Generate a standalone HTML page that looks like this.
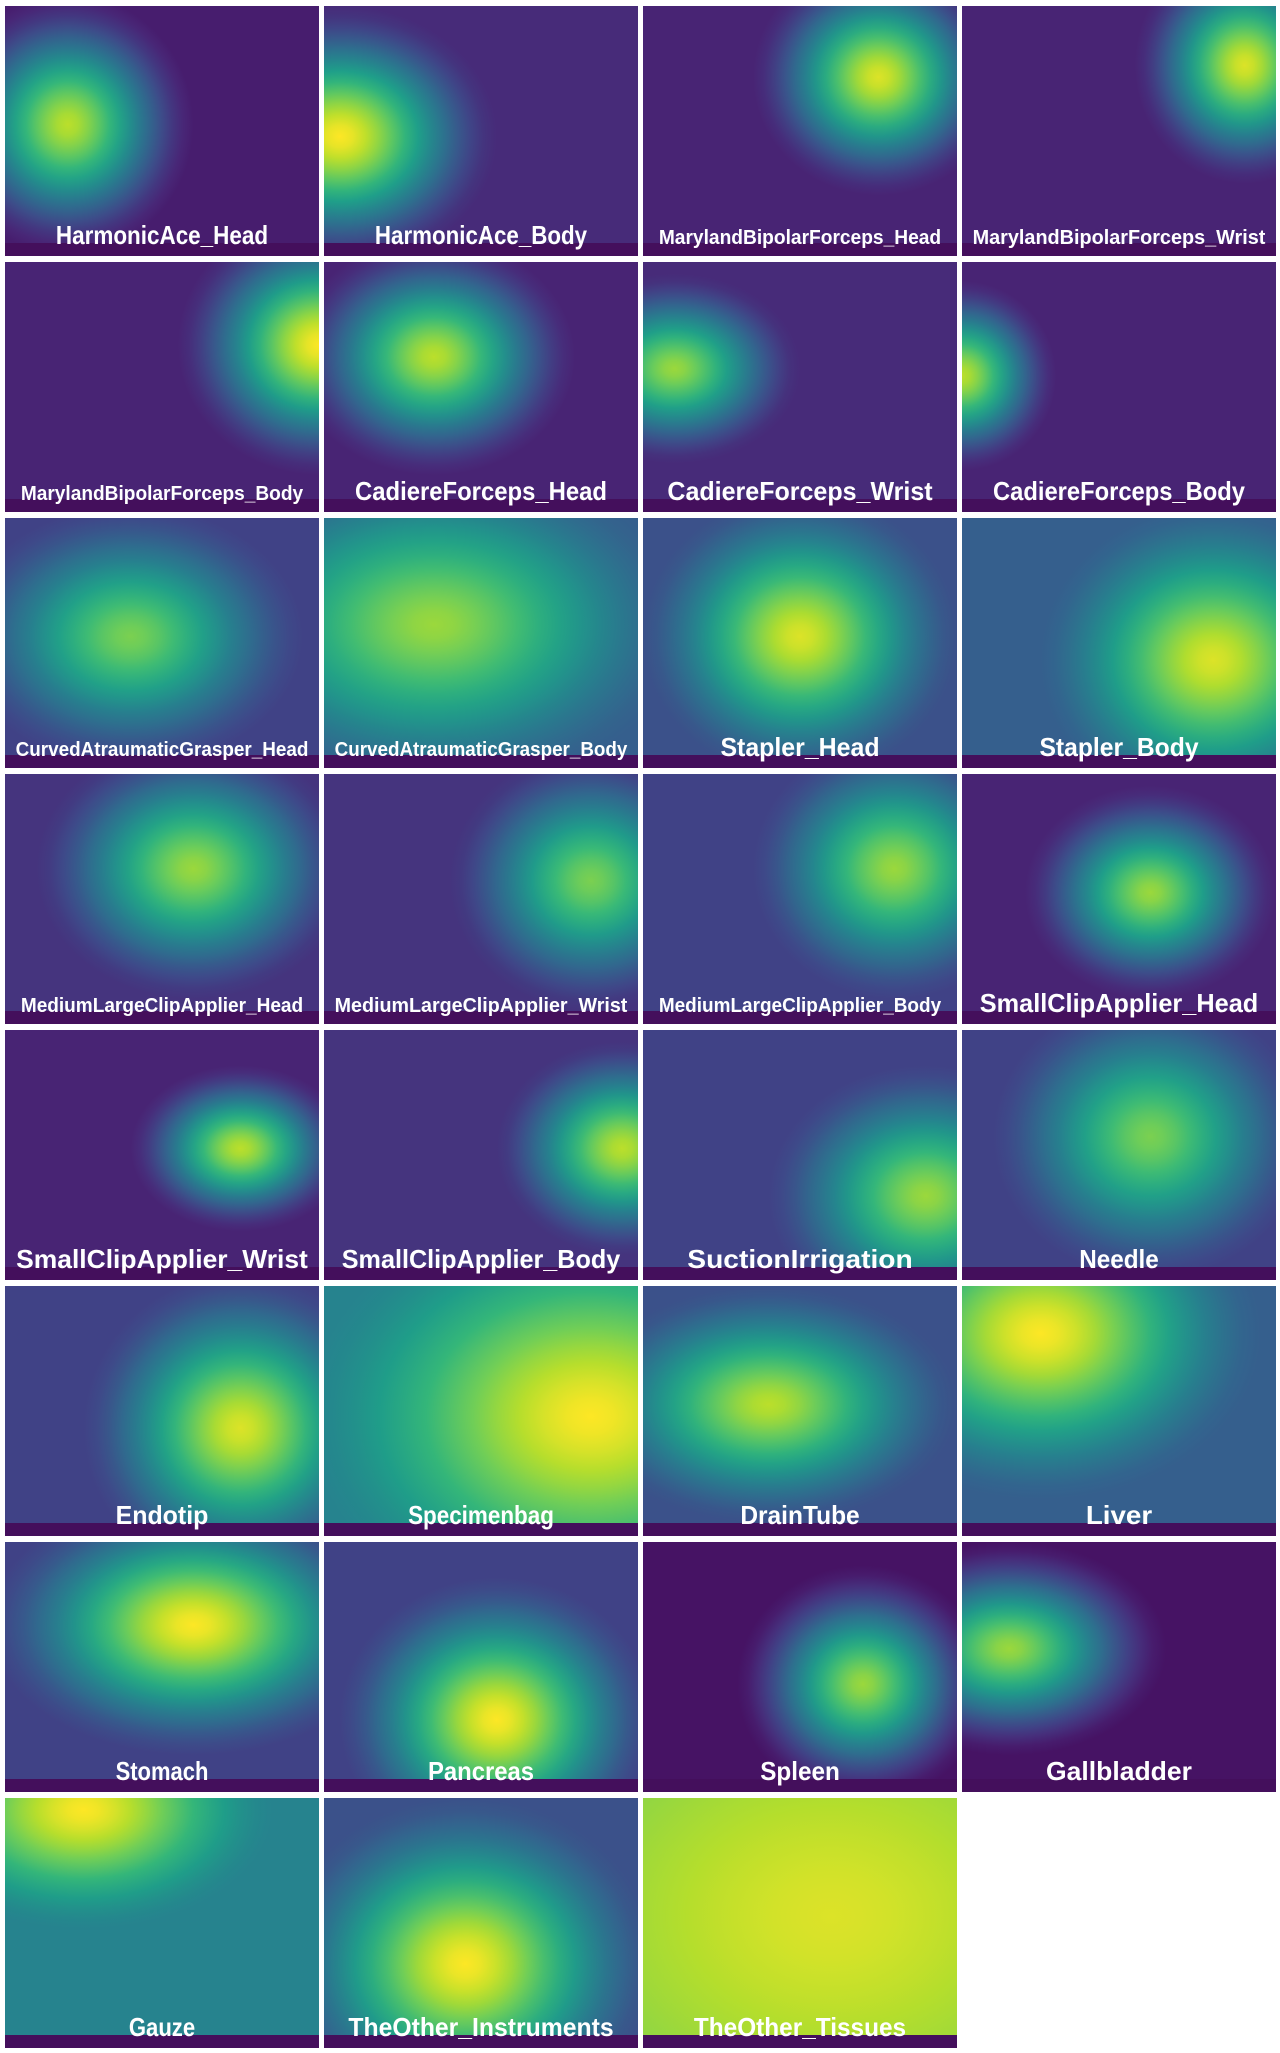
<!DOCTYPE html>
<html><head><meta charset="utf-8"><style>
html,body{margin:0;padding:0;background:#fff;width:1280px;height:2053px;overflow:hidden;}
svg{display:block;}
</style></head><body>
<svg id="chart" width="1280" height="2053" viewBox="0 0 1280 2053" xmlns="http://www.w3.org/2000/svg"><defs id="defs"></defs></svg>
<script>
const names=["HarmonicAce_Head","HarmonicAce_Body","MarylandBipolarForceps_Head","MarylandBipolarForceps_Wrist","MarylandBipolarForceps_Body","CadiereForceps_Head","CadiereForceps_Wrist","CadiereForceps_Body","CurvedAtraumaticGrasper_Head","CurvedAtraumaticGrasper_Body","Stapler_Head","Stapler_Body","MediumLargeClipApplier_Head","MediumLargeClipApplier_Wrist","MediumLargeClipApplier_Body","SmallClipApplier_Head","SmallClipApplier_Wrist","SmallClipApplier_Body","SuctionIrrigation","Needle","Endotip","Specimenbag","DrainTube","Liver","Stomach","Pancreas","Spleen","Gallbladder","Gauze","TheOther_Instruments","TheOther_Tissues"];
const hotX=[.2,.05,.75,.9,1,.35,.1,0,.4,.35,.5,.8,.6,.85,.8,.6,.75,.95,.9,.6,.75,.85,.4,.25,.6,.55,.7,.15,.25,.45,.6];
const hotY=[.5,.55,.3,.25,.35,.4,.45,.48,.5,.45,.5,.6,.4,.45,.4,.5,.5,.5,.7,.45,.6,.55,.5,.2,.35,.75,.6,.45,.05,.7,.5];
const spreadX=[.4,.5,.4,.35,.45,.45,.4,.3,.55,.8,.5,.55,.5,.45,.45,.4,.35,.4,.5,.5,.5,.9,.6,.7,.65,.5,.4,.5,.6,.6,1.1];
const spreadY=[.55,.55,.5,.5,.55,.5,.4,.4,.55,.7,.6,.65,.55,.55,.55,.45,.35,.45,.55,.6,.65,.9,.5,.7,.55,.6,.5,.45,.5,.7,1.1];
const peak=[.9,1,.95,.95,1,.9,.85,.9,.8,.85,.95,.95,.85,.8,.85,.85,.9,.9,.85,.8,.95,1,.9,1,1,1,.85,.85,1,1,.95];
const base=[.08,.12,.1,.1,.1,.1,.12,.1,.2,.3,.25,.3,.15,.15,.2,.1,.1,.15,.2,.2,.2,.45,.25,.3,.2,.2,.05,.05,.45,.25,.8];

const vir=[[68,1,84],[72,40,120],[62,73,137],[49,104,142],[38,130,142],[31,158,137],[53,183,121],[109,205,89],[180,222,44],[253,231,37]];
function viridis(t){t=Math.max(0,Math.min(1,t));const p=t*(vir.length-1),i=Math.min(vir.length-2,Math.floor(p)),f=p-i;
const c=vir[i].map((v,k)=>Math.round(v+(vir[i+1][k]-v)*f));return `rgb(${c[0]},${c[1]},${c[2]})`;}

const NS="http://www.w3.org/2000/svg";
const svg=document.getElementById('chart'),defs=document.getElementById('defs');
const X0=5,Y0=6,PX=319,PY=256,W=314,H=250,STRIP=13;
function mk(t,a){const e=document.createElementNS(NS,t);for(const k in a)e.setAttribute(k,a[k]);return e;}
names.forEach((nm,i)=>{
  const col=i%4,row=Math.floor(i/4),x=X0+col*PX,y=Y0+row*PY;
  const g=mk('g',{});
  
  
  const hf=(H-STRIP)/H;
  const gr=mk('radialGradient',{id:'g'+i,cx:0,cy:0,r:1,
    gradientTransform:`translate(${hotX[i]},${hotY[i]*hf}) scale(${spreadX[i]},${spreadY[i]*hf})`});
  for(let s=0;s<=12;s++){const t=s/12;const v=base[i]+(peak[i]-base[i])*Math.pow(1-Math.pow(t,1.5),1.6);
    gr.appendChild(mk('stop',{offset:t,'stop-color':viridis(v)}));}
  defs.appendChild(gr);
  g.appendChild(mk('rect',{x:x,y:y,width:W,height:H,fill:'url(#g'+i+')'}));
  g.appendChild(mk('rect',{x:x,y:y+H-STRIP,width:W,height:STRIP,fill:'#440f5c'}));
  const n=nm.length,fs=n<=22?26:20.5,tl=Math.min(n*0.51*fs,300);
  const tx=mk('text',{x:x+W/2,y:y+H-12,'text-anchor':'middle','font-family':'Liberation Sans, sans-serif','font-weight':'bold','font-size':fs,fill:'#fff',textLength:tl,lengthAdjust:'spacingAndGlyphs'});
  tx.textContent=nm;
  
  
  g.appendChild(tx);
  svg.appendChild(g);
});
</script>
</body></html>
